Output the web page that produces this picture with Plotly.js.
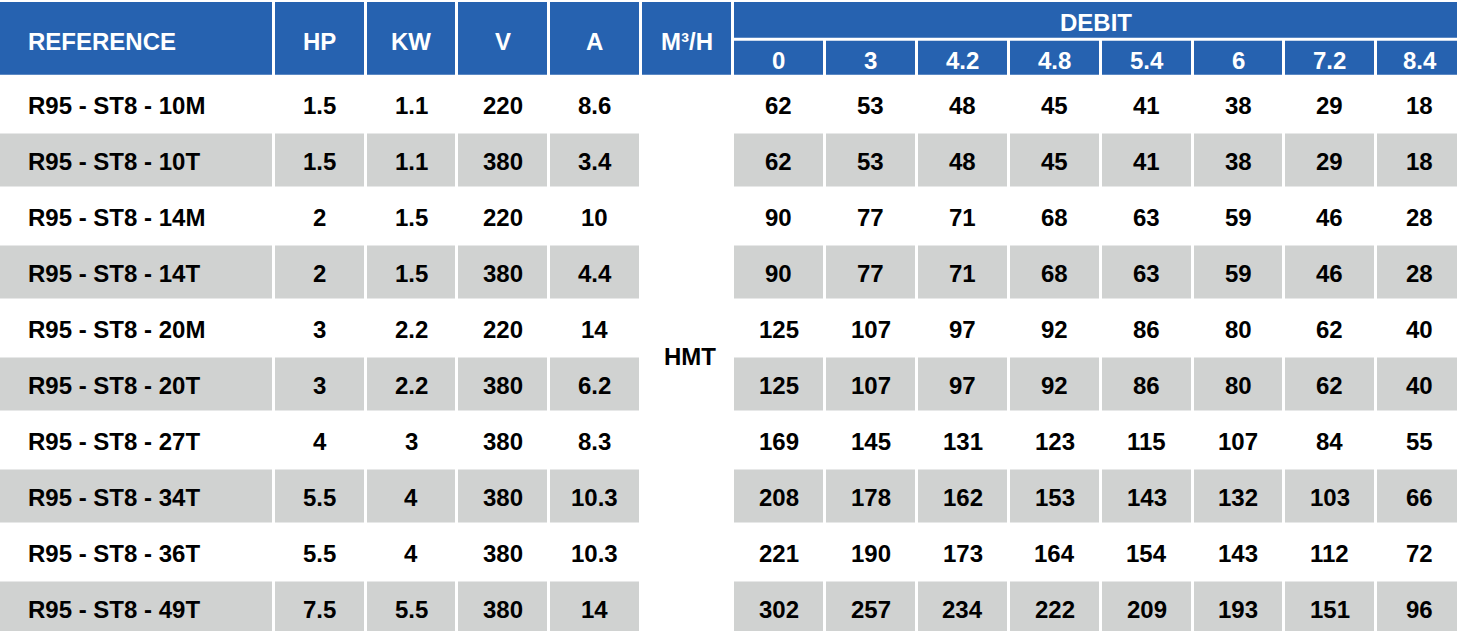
<!DOCTYPE html>
<html>
<head>
<meta charset="utf-8">
<script src="https://cdn.plot.ly/plotly-3.0.1.min.js"></script>
<style>html,body{margin:0;padding:0;background:#fff;}#chart{width:1457px;height:631px;}</style>
</head>
<body>
<div id="chart"></div>
<script>
// ---- Data ----
const references = ['R95 - ST8 - 10M','R95 - ST8 - 10T','R95 - ST8 - 14M','R95 - ST8 - 14T','R95 - ST8 - 20M','R95 - ST8 - 20T','R95 - ST8 - 27T','R95 - ST8 - 34T','R95 - ST8 - 36T','R95 - ST8 - 49T'];
const hp = [1.5, 1.5, 2, 2, 3, 3, 4, 5.5, 5.5, 7.5];
const kw = [1.1, 1.1, 1.5, 1.5, 2.2, 2.2, 3, 4, 4, 5.5];
const volts = [220, 380, 220, 380, 220, 380, 380, 380, 380, 380];
const amps = [8.6, 3.4, 10, 4.4, 14, 6.2, 8.3, 10.3, 10.3, 14];
const headerLabels = ['REFERENCE', 'HP', 'KW', 'V', 'A', 'M³/H'];
const debitTitle = 'DEBIT';
const hmtLabel = 'HMT';
const debitLabels = ['0', '3', '4.2', '4.8', '5.4', '6', '7.2', '8.4'];
const hmt = [
  [62, 53, 48, 45, 41, 38, 29, 18],
  [62, 53, 48, 45, 41, 38, 29, 18],
  [90, 77, 71, 68, 63, 59, 46, 28],
  [90, 77, 71, 68, 63, 59, 46, 28],
  [125, 107, 97, 92, 86, 80, 62, 40],
  [125, 107, 97, 92, 86, 80, 62, 40],
  [169, 145, 131, 123, 115, 107, 84, 55],
  [208, 178, 162, 153, 143, 132, 103, 66],
  [221, 190, 173, 164, 154, 143, 112, 72],
  [302, 257, 234, 222, 209, 193, 151, 96]
];

// ---- Layout geometry (axis units) ----
const colLeft  = [0, 275, 367, 458, 550, 642, 734, 826, 918, 1010, 1102, 1194, 1285, 1377];
const colRight = [272, 364, 455, 547, 639, 731, 823, 915, 1007, 1099, 1191, 1282, 1374, 1462];
const headTop = 2, headBottom = 74.7, debitBandBottom = 37.7, subTop = 40.7;
const bodyTop = 76, rowPitch = 56, rowInset = 1.5;
const BLUE = '#2662B0', GRAY = '#D0D2D1';
const FONT = 'Liberation Sans, Arial, sans-serif';
const FS = 24;
const LEFT_X = 26;

const shapes = [];
const annotations = [];
function rect(x0, x1, y0, y1, color) {
  shapes.push({type: 'rect', xref: 'x', yref: 'y', x0, x1, y0, y1, fillcolor: color, line: {width: 0}, layer: 'below'});
}
function label(text, x, y, color, xanchor) {
  annotations.push({text: '<b>' + text + '</b>', x, y, xref: 'x', yref: 'y', showarrow: false,
    xanchor: xanchor || 'center', yanchor: 'middle', font: {family: FONT, size: FS, color}});
}
const cx = c => (colLeft[c] + colRight[c]) / 2;

// Header: first six columns span both header rows
for (let c = 0; c < 6; c++) {
  rect(colLeft[c], colRight[c], headTop, headBottom, BLUE);
  if (c === 0) label(headerLabels[c], LEFT_X, 41.5, '#ffffff', 'left');
  else label(headerLabels[c], cx(c), 41.5, '#ffffff');
}
// DEBIT band
rect(colLeft[6], colRight[13], headTop, debitBandBottom, BLUE);
label(debitTitle, (colLeft[6] + 1457) / 2, 22, '#ffffff');
debitLabels.forEach((d, j) => {
  const c = 6 + j;
  rect(colLeft[c], colRight[c], subTop, headBottom, BLUE);
  label(d, cx(c), 60, '#ffffff');
});

// Body
references.forEach((ref, i) => {
  const y0 = bodyTop + i * rowPitch, y1 = y0 + rowPitch, ym = (y0 + y1) / 2 + 1.5;
  if (i % 2 === 1) {
    for (let c = 0; c < 14; c++) {
      if (c === 5) continue;
      rect(colLeft[c], colRight[c], y0 + rowInset, y1 - rowInset, GRAY);
    }
  }
  label(ref, LEFT_X, ym, '#000000', 'left');
  label(String(hp[i]), cx(1), ym, '#000000');
  label(String(kw[i]), cx(2), ym, '#000000');
  label(String(volts[i]), cx(3), ym, '#000000');
  label(String(amps[i]), cx(4), ym, '#000000');
  hmt[i].forEach((v, j) => label(String(v), cx(6 + j), ym, '#000000'));
});
// HMT label, centred over the body in the M³/H column
label(hmtLabel, cx(5) + 3, bodyTop + references.length * rowPitch / 2, '#000000');

const layout = {
  width: 1457, height: 631,
  margin: {l: 0, r: 0, t: 0, b: 0, pad: 0},
  paper_bgcolor: '#ffffff', plot_bgcolor: '#ffffff',
  xaxis: {range: [0, 1457], visible: false, fixedrange: true},
  yaxis: {range: [631, 0], visible: false, fixedrange: true},
  showlegend: false,
  shapes, annotations
};
Plotly.newPlot('chart', [{type: 'scatter', x: [], y: [], hoverinfo: 'skip'}], layout, {displayModeBar: false, staticPlot: true});
</script>
</body>
</html>
